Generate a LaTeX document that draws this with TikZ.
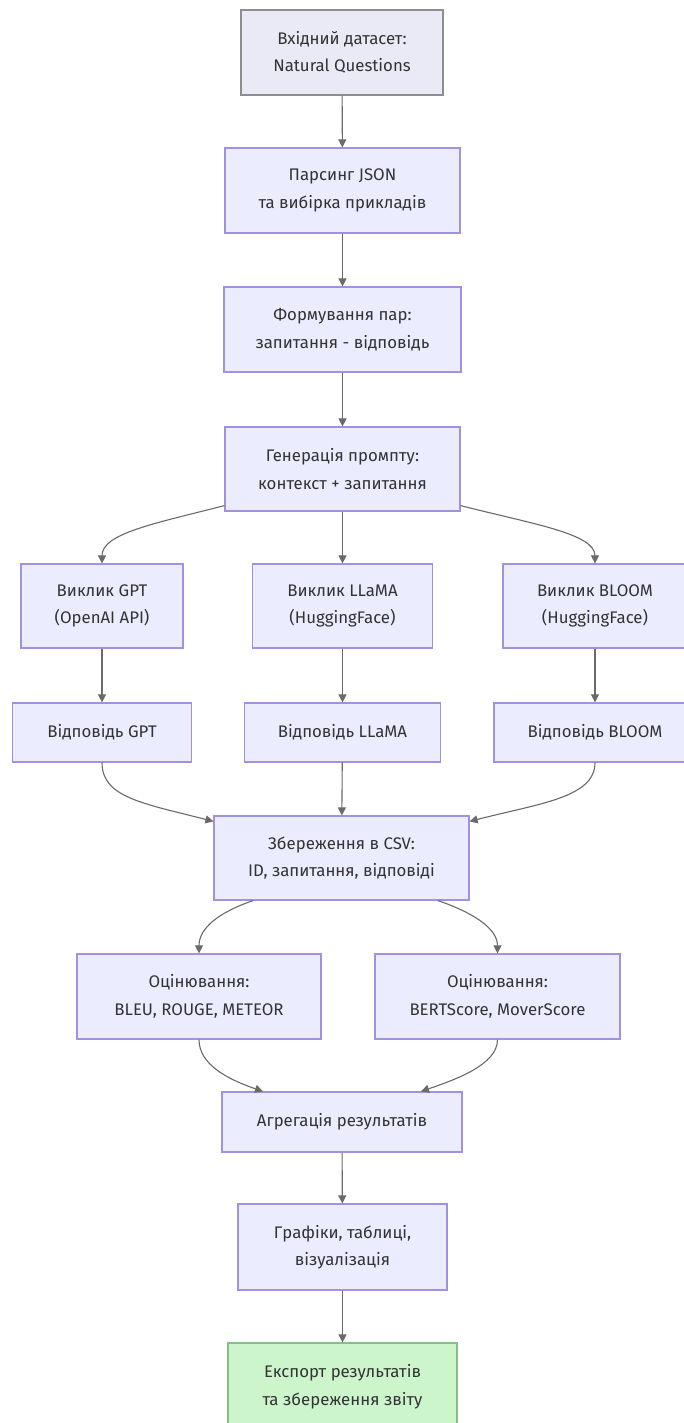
\documentclass[tikz,border=0pt]{standalone}
\usepackage{fontspec}
\setmainfont{Fira Sans}
\usetikzlibrary{arrows.meta,calc}
\definecolor{boxfill}{HTML}{ECECFF}
\definecolor{boxline}{HTML}{A390DE}
\definecolor{topfill}{HTML}{EAEAF6}
\definecolor{topline}{HTML}{8E8E8E}
\definecolor{greenfill}{HTML}{CDF5CC}
\definecolor{greenline}{HTML}{86BF86}
\definecolor{edgecol}{HTML}{6A6A6A}
\definecolor{txt}{HTML}{333333}
\tikzset{
  box/.style={rectangle, draw=boxline, fill=boxfill, line width=1.2pt, align=center,
    inner sep=0pt, text=txt, font=\fontsize{16.8}{27.5}\selectfont},
  topbox/.style={box, draw=topline, fill=topfill},
  greenbox/.style={box, draw=greenline, fill=greenfill},
  conn/.style={draw=edgecol, line width=1.1pt, -{Triangle[length=8pt,width=8pt]}, fill=none}
}
\begin{document}
\begin{tikzpicture}[x=1pt,y=-1pt]
\useasboundingbox[fill=white] (0,0) rectangle (683,1423);

\node[topbox, minimum width=202pt, minimum height=85pt] (n1) at (342,52.5) {Вхідний датасет:\\Natural Questions};
\node[box, minimum width=235pt, minimum height=85pt] (n2) at (342.5,190.5) {Парсинг JSON\\та вибірка прикладів};
\node[box, minimum width=237pt, minimum height=85pt] (n3) at (342.5,329.5) {Формування пар:\\запитання - відповідь};
\node[box, minimum width=235pt, minimum height=84pt] (n4) at (342.5,469) {Генерація промпту:\\контекст + запитання};

\node[box, minimum width=162pt, minimum height=84pt] (n5a) at (102,606) {Виклик GPT\\(OpenAI API)};
\node[box, minimum width=180pt, minimum height=84pt] (n5b) at (342.5,606) {Виклик LLaMA\\(HuggingFace)};
\node[box, minimum width=184pt, minimum height=84pt] (n5c) at (595,606) {Виклик BLOOM\\(HuggingFace)};

\node[box, minimum width=179pt, minimum height=59pt] (n6a) at (102,732.5) {Відповідь GPT};
\node[box, minimum width=196pt, minimum height=59pt] (n6b) at (342.5,732.5) {Відповідь LLaMA};
\node[box, minimum width=202pt, minimum height=59pt] (n6c) at (595,732.5) {Відповідь BLOOM};

\node[box, minimum width=255pt, minimum height=84pt] (n7) at (341.5,858) {Збереження в CSV:\\ID, запитання, відповіді};

\node[box, minimum width=244pt, minimum height=85pt] (n8a) at (199,996.5) {Оцінювання:\\BLEU, ROUGE, METEOR};
\node[box, minimum width=245pt, minimum height=85pt] (n8b) at (497.5,996.5) {Оцінювання:\\BERTScore, MoverScore};

\node[box, minimum width=240pt, minimum height=60pt] (n9) at (342,1122) {Агрегація результатів};
\node[box, minimum width=209pt, minimum height=86pt] (n10) at (342.5,1247) {Графіки, таблиці,\\візуалізація};
\node[greenbox, minimum width=229pt, minimum height=87pt] (n11) at (342.5,1386.5) {Експорт результатів\\та збереження звіту};

% straight connectors
\draw[conn] (n1) -- (n2);
\draw[conn] (n2) -- (n3);
\draw[conn] (n3) -- (n4);
\draw[conn] (n4) -- (n5b);
\draw[conn] (n5a) -- (n6a);
\draw[conn] (n5b) -- (n6b);
\draw[conn] (n5c) -- (n6c);
\draw[conn] (n6b) -- (n7);
\draw[conn] (n9) -- (n10);
\draw[conn] (n10) -- (n11);

% split from n4
\coordinate (s4l) at ([yshift=6pt]n4.south west);
\coordinate (s4r) at ([yshift=6pt]n4.south east);
\draw[conn] (s4l) .. controls ($(s4l)+(-70pt,-18pt)$) and ($(n5a.north)+(0pt,30pt)$) .. (n5a.north);
\draw[conn] (s4r) .. controls ($(s4r)+(70pt,-18pt)$) and ($(n5c.north)+(0pt,30pt)$) .. (n5c.north);

% merge into n7
\coordinate (e7l) at ([yshift=-6pt]n7.north west);
\coordinate (e7r) at ([yshift=-6pt]n7.north east);
\draw[conn] (n6a.south) .. controls ($(n6a.south)+(0pt,-35pt)$) and ($(e7l)+(-70pt,18pt)$) .. (e7l);
\draw[conn] (n6c.south) .. controls ($(n6c.south)+(0pt,-35pt)$) and ($(e7r)+(70pt,18pt)$) .. (e7r);

% split from n7
\coordinate (s7l) at ([xshift=-88.5pt]n7.south);
\coordinate (s7r) at ([xshift=96.5pt]n7.south);
\draw[conn] (s7l) .. controls ($(s7l)+(-35pt,-12pt)$) and ($(n8a.north)+(0pt,25pt)$) .. (n8a.north);
\draw[conn] (s7r) .. controls ($(s7r)+(35pt,-12pt)$) and ($(n8b.north)+(0pt,25pt)$) .. (n8b.north);

% merge into n9
\coordinate (e9l) at ([xshift=-79pt]n9.north);
\coordinate (e9r) at ([xshift=79pt]n9.north);
\draw[conn] (n8a.south) .. controls ($(n8a.south)+(0pt,-25pt)$) and ($(e9l)+(-35pt,12pt)$) .. (e9l);
\draw[conn] (n8b.south) .. controls ($(n8b.south)+(0pt,-25pt)$) and ($(e9r)+(35pt,12pt)$) .. (e9r);
\end{tikzpicture}
\end{document}
